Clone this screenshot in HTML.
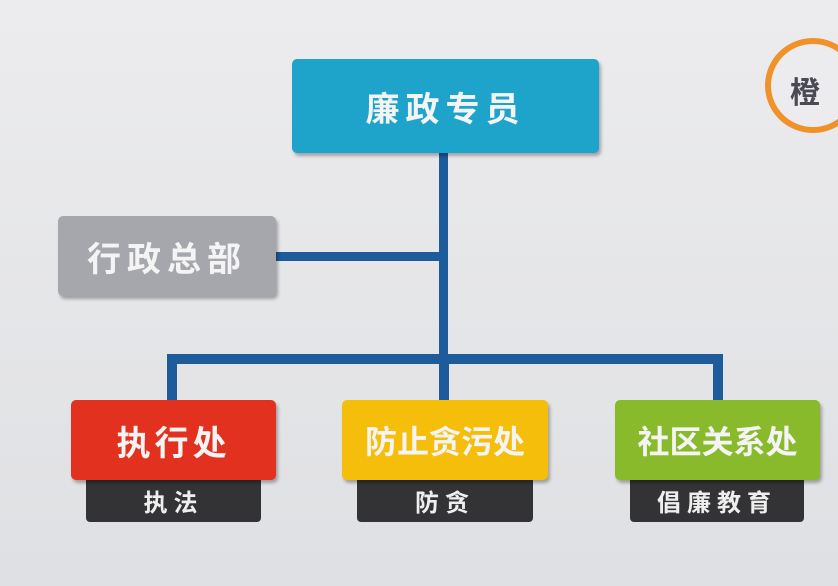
<!DOCTYPE html>
<html><head><meta charset="utf-8"><style>
body{margin:0;width:838px;height:586px;overflow:hidden;background:linear-gradient(180deg,#ececee,#dfe0e3);font-family:"Liberation Sans","Noto Sans CJK SC",sans-serif;position:relative}
.b{position:absolute;border-radius:5px;color:#f4f4f4;font-weight:bold;display:flex;align-items:center;justify-content:center;box-shadow:2px 3px 3px rgba(0,0,0,.3)}
.l{position:absolute;background:#1e5b9b}
.s{position:absolute;background:#333336;color:#eee;font-weight:bold;font-size:24px;display:flex;align-items:center;justify-content:center;border-radius:0 0 4px 4px;letter-spacing:6px}
</style></head><body>
<div class="l" style="left:439px;top:150px;width:9px;height:212px"></div>
<div class="l" style="left:274px;top:252px;width:168px;height:9px"></div>
<div class="l" style="left:167px;top:354px;width:556px;height:10px"></div>
<div class="l" style="left:167px;top:354px;width:10px;height:50px"></div>
<div class="l" style="left:439px;top:354px;width:10px;height:50px"></div>
<div class="l" style="left:713px;top:354px;width:10px;height:50px"></div>
<div class="b" style="left:292px;top:59px;width:307px;height:94px;background:#1ea4cb;font-size:34px;letter-spacing:6px">廉政专员</div>
<div class="b" style="left:58px;top:216px;width:218px;height:80px;background:#a6a7ac;font-size:34px;letter-spacing:6px">行政总部</div>
<div class="s" style="left:86px;top:478px;width:175px;height:44px">执法</div>
<div class="s" style="left:357px;top:478px;width:176px;height:44px">防贪</div>
<div class="s" style="left:630px;top:478px;width:174px;height:44px">倡廉教育</div>
<div class="b" style="left:71px;top:400px;width:205px;height:80px;background:#e2321f;font-size:34px;letter-spacing:4px">执行处</div>
<div class="b" style="left:342px;top:400px;width:206px;height:80px;background:#f4be0a;font-size:32px">防止贪污处</div>
<div class="b" style="left:615px;top:400px;width:205px;height:80px;background:#88ba2c;font-size:32px">社区关系处</div>
<div style="position:absolute;left:765px;top:38px;width:96px;height:95px;border:6px solid #f0912a;border-radius:50%;box-sizing:border-box;background:#ececee"></div>
<div style="position:absolute;left:790px;top:68px;font-size:30px;font-weight:bold;color:#4a4a55">橙</div>
</body></html>
